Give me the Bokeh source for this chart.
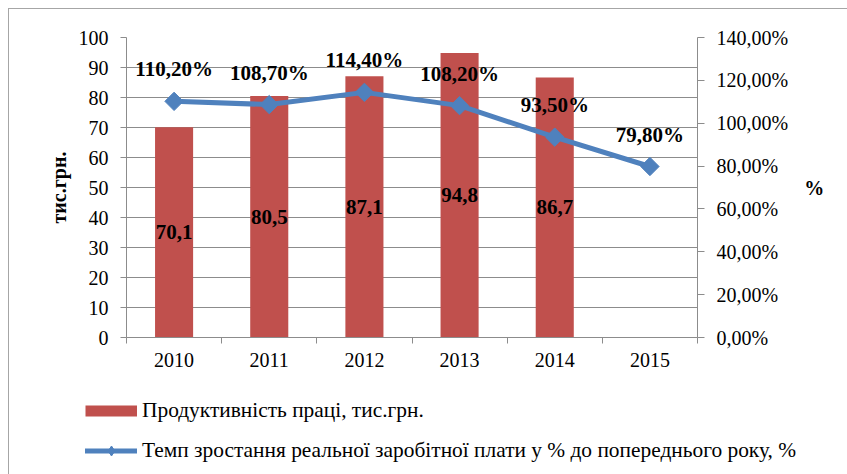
import math
from bokeh.plotting import figure
from bokeh.layouts import column
from bokeh.models import Range1d, LinearAxis, FixedTicker, Legend, LegendItem
from bokeh.core.properties import value
from bokeh.embed import file_html
from bokeh.resources import INLINE

# ---- data ----
years = ["2010", "2011", "2012", "2013", "2014", "2015"]
productivity = [70.1, 80.5, 87.1, 94.8, 86.7]          # тис.грн. (no bar for 2015)
wage_growth = [110.2, 108.7, 114.4, 108.2, 93.5, 79.8]  # %
left_ticks = [0, 10, 20, 30, 40, 50, 60, 70, 80, 90, 100]
right_ticks = [0, 20, 40, 60, 80, 100, 120, 140]
right_tick_labels = ["0,00%", "20,00%", "40,00%", "60,00%", "80,00%",
                     "100,00%", "120,00%", "140,00%"]
bar_name = "Продуктивність праці, тис.грн."
line_name = "Темп зростання реальної заробітної плати у % до попереднього року, %"
left_title = "тис.грн."
right_title = "%"

BAR = "#C0504D"
LINE = "#4F81BD"
GRID = "#8C8C8C"
FONT = "Liberation Serif"

xs = [i + 0.5 for i in range(len(years))]
bar_x = xs[:len(productivity)]
bar_labels = [f"{v:.1f}".replace(".", ",") for v in productivity]
bar_mid = [v / 2 for v in productivity]
pct_labels = [f"{v:.2f}".replace(".", ",") + "%" for v in wage_growth]

W = 838
H_MAIN = 370
H_LEG = 95

p = figure(width=W, height=H_MAIN, x_range=Range1d(0, len(years)),
           y_range=Range1d(0, 100), output_backend="svg", toolbar_location=None,
           min_border_left=117, min_border_right=150, min_border_top=28,
           min_border_bottom=42)
p.frame_align = False
p.extra_y_ranges = {"pct": Range1d(0, 140)}
p.outline_line_color = None
p.background_fill_color = "white"

# x axis: labels at centres, ticks at category boundaries
xax = p.xaxis[0]
xax.ticker = FixedTicker(ticks=xs, minor_ticks=list(range(len(years) + 1)))
xax.major_label_overrides = {x: y for x, y in zip(xs, years)}
xax.major_tick_in = 0
xax.major_tick_out = 0
xax.minor_tick_in = 0
xax.minor_tick_out = 6
xax.minor_tick_line_color = GRID
xax.axis_line_color = GRID
xax.major_label_standoff = 9
xax.major_label_text_font = FONT
xax.major_label_text_font_size = "20px"
xax.major_label_text_color = "black"

yax = p.yaxis[0]
lt = FixedTicker(ticks=left_ticks)
yax.ticker = lt
p.ygrid.ticker = lt
yax.major_tick_in = 0
yax.major_tick_out = 6
yax.minor_tick_line_color = None
yax.major_tick_line_color = GRID
yax.axis_line_color = GRID
yax.major_label_standoff = 12
yax.major_label_text_font = FONT
yax.major_label_text_font_size = "20px"
yax.major_label_text_color = "black"
yax.axis_label = left_title
yax.axis_label_text_font = FONT
yax.axis_label_text_font_style = "bold"
yax.axis_label_text_font_size = "20px"
yax.axis_label_text_color = "black"
yax.axis_label_standoff = 6

p.xgrid.visible = False
p.ygrid.grid_line_color = GRID
p.ygrid.grid_line_width = 1

rax = LinearAxis(y_range_name="pct", ticker=FixedTicker(ticks=right_ticks))
rax.major_label_overrides = {t: l for t, l in zip(right_ticks, right_tick_labels)}
rax.major_tick_in = 0
rax.major_tick_out = 7
rax.minor_tick_line_color = None
rax.major_tick_line_color = GRID
rax.axis_line_color = GRID
rax.major_label_standoff = 12
rax.major_label_text_font = FONT
rax.major_label_text_font_size = "20px"
rax.major_label_text_color = "black"
rax.axis_label = right_title
rax.axis_label_orientation = "horizontal"
rax.axis_label_text_font = FONT
rax.axis_label_text_font_style = "bold"
rax.axis_label_text_font_size = "20px"
rax.axis_label_text_color = "black"
rax.axis_label_standoff = 13
p.add_layout(rax, "right")

# bars
p.vbar(x=bar_x, top=productivity, width=0.4, fill_color=BAR, line_color=None)
p.text(x=bar_x, y=bar_mid, text=bar_labels, text_align="center",
       text_baseline="middle", text_font=value(FONT), text_font_style="bold",
       text_font_size="21px", text_color="black")

# line
p.line(x=xs, y=wage_growth, y_range_name="pct", line_color=LINE,
       line_width=5, line_cap="round", line_join="round")
p.scatter(x=xs, y=wage_growth, y_range_name="pct", marker="square",
          angle=math.pi / 4, size=13, fill_color=LINE, line_color=LINE)
p.text(x=xs, y=wage_growth, y_range_name="pct", text=pct_labels, y_offset=-32,
       text_align="center", text_baseline="middle", text_font=value(FONT),
       text_font_style="bold", text_font_size="21px", text_color="black")

# ---- legend figure below the chart ----
leg = figure(width=W, height=H_LEG, x_range=Range1d(0, W), y_range=Range1d(0, H_LEG),
             output_backend="svg", toolbar_location=None,
             x_axis_type=None, y_axis_type=None, min_border=0)
leg.frame_align = False
leg.outline_line_color = None
leg.xgrid.visible = False
leg.ygrid.visible = False
nan = float("nan")
# proxies: one invisible (NaN) point each, only used to draw the legend glyphs
bar_proxy = leg.line(x=[nan], y=[nan], line_color=BAR, line_width=11)
line_proxy = leg.line(x=[nan], y=[nan], line_color=LINE, line_width=5,
                      line_cap="round")
mark_proxy = leg.scatter(x=[nan], y=[nan], marker="diamond", fill_color=LINE,
                         line_color=LINE)
legend = Legend(items=[LegendItem(label=bar_name, renderers=[bar_proxy]),
                       LegendItem(label=line_name, renderers=[line_proxy, mark_proxy])],
                location=(76, 11), orientation="vertical",
                glyph_width=52, glyph_height=25, label_height=25,
                label_standoff=5, spacing=15, padding=0, margin=0,
                border_line_color=None, background_fill_alpha=0,
                label_text_font=FONT, label_text_font_size="21.4px",
                label_text_color="black")
leg.add_layout(legend)

layout = column(p, leg, spacing=0,
                styles={"border-top": "1px solid #A6A6A6",
                        "border-left": "1px solid #A6A6A6",
                        "margin-left": "8px", "margin-top": "8px"})

open("out.html", "w").write(file_html(layout, INLINE))
